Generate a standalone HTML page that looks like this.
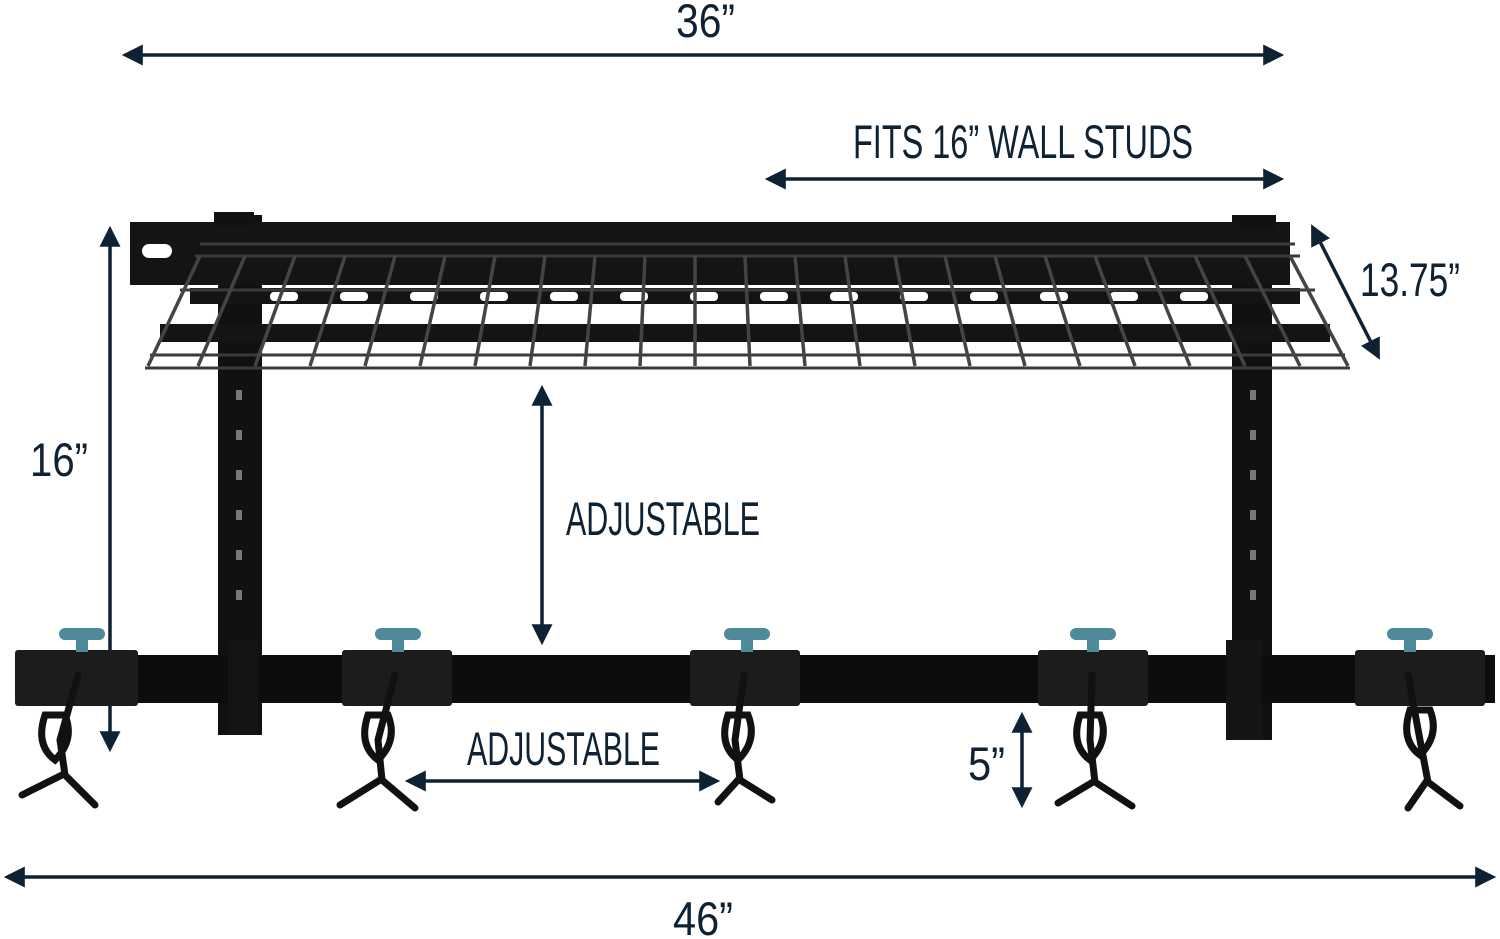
<!DOCTYPE html>
<html><head><meta charset="utf-8"><style>
html,body{margin:0;padding:0;background:#fff;}
svg{display:block}
text{font-family:"Liberation Sans",sans-serif;fill:#0e2233;}
</style></head><body>
<svg width="1500" height="939" viewBox="0 0 1500 939" xmlns="http://www.w3.org/2000/svg">
<defs>
<marker id="ah" viewBox="0 0 10 10" refX="8" refY="5" markerWidth="6" markerHeight="6" orient="auto-start-reverse">
<path d="M0,0 L10,5 L0,10 z" fill="#0e2233"/></marker>
</defs>
<g stroke="#0e2233" stroke-width="3.5" fill="none" marker-start="url(#ah)" marker-end="url(#ah)">
<line x1="126" y1="55" x2="1280" y2="55"/>
<line x1="769" y1="179" x2="1280" y2="179"/>
<line x1="1313" y1="228" x2="1378" y2="356"/>
<line x1="110" y1="230" x2="110" y2="748"/>
<line x1="542" y1="389" x2="542" y2="641"/>
<line x1="409" y1="781" x2="716" y2="781"/>
<line x1="1022" y1="716" x2="1022" y2="804"/>
<line x1="8" y1="877" x2="1492" y2="877"/>
</g>
<g font-size="47" lengthAdjust="spacingAndGlyphs">
<text x="676" y="37" textLength="59" lengthAdjust="spacingAndGlyphs">36”</text>
<text x="853" y="158" textLength="340" lengthAdjust="spacingAndGlyphs">FITS 16” WALL STUDS</text>
<text x="1360" y="296" textLength="100" lengthAdjust="spacingAndGlyphs">13.75”</text>
<text x="30" y="476" textLength="58" lengthAdjust="spacingAndGlyphs">16”</text>
<text x="566" y="535" textLength="194" lengthAdjust="spacingAndGlyphs">ADJUSTABLE</text>
<text x="467" y="765" textLength="193" lengthAdjust="spacingAndGlyphs">ADJUSTABLE</text>
<text x="968" y="780" textLength="37" lengthAdjust="spacingAndGlyphs">5”</text>
<text x="673" y="935" textLength="60" lengthAdjust="spacingAndGlyphs">46”</text>
</g>
<!-- posts -->
<rect x="218" y="215" width="44" height="520" fill="#111"/>
<rect x="1232" y="215" width="40" height="525" fill="#111"/>
<g fill="#777">
<rect x="236" y="390" width="6" height="10"/><rect x="236" y="430" width="6" height="10"/><rect x="236" y="470" width="6" height="10"/><rect x="236" y="510" width="6" height="10"/><rect x="236" y="550" width="6" height="10"/><rect x="236" y="590" width="6" height="10"/>
<rect x="1250" y="390" width="6" height="10"/><rect x="1250" y="430" width="6" height="10"/><rect x="1250" y="470" width="6" height="10"/><rect x="1250" y="510" width="6" height="10"/><rect x="1250" y="550" width="6" height="10"/><rect x="1250" y="590" width="6" height="10"/>
</g>
<!-- shelf -->
<polygon points="130,222 1290,222 1290,285 130,285" fill="#141414"/>
<rect x="142" y="244" width="30" height="14" rx="7" fill="#fff"/>
<rect x="190" y="288" width="1110" height="16" fill="#141414"/>
<g fill="#fff">
<rect x="270" y="292" width="28" height="9" rx="4"/><rect x="340" y="292" width="28" height="9" rx="4"/><rect x="410" y="292" width="28" height="9" rx="4"/><rect x="480" y="292" width="28" height="9" rx="4"/><rect x="550" y="292" width="28" height="9" rx="4"/><rect x="620" y="292" width="28" height="9" rx="4"/><rect x="690" y="292" width="28" height="9" rx="4"/><rect x="760" y="292" width="28" height="9" rx="4"/><rect x="830" y="292" width="28" height="9" rx="4"/><rect x="900" y="292" width="28" height="9" rx="4"/><rect x="970" y="292" width="28" height="9" rx="4"/><rect x="1040" y="292" width="28" height="9" rx="4"/><rect x="1110" y="292" width="28" height="9" rx="4"/><rect x="1180" y="292" width="28" height="9" rx="4"/>
</g>
<rect x="160" y="324" width="1170" height="18" fill="#141414"/>
<g stroke="#3a3a3a" stroke-width="3" fill="none">
<line x1="200" y1="244" x2="1295" y2="244"/>
<line x1="195" y1="256" x2="1300" y2="256"/>
<line x1="180" y1="290" x2="1315" y2="290"/>
<line x1="150" y1="355" x2="1345" y2="355"/>
<line x1="145" y1="368" x2="1350" y2="368"/>
</g>
<g stroke="#444" stroke-width="3.5">
<line x1="200" y1="256" x2="148" y2="366"/><line x1="245" y1="256" x2="198" y2="366"/><line x1="295" y1="256" x2="255" y2="366"/><line x1="345" y1="256" x2="310" y2="366"/><line x1="395" y1="256" x2="365" y2="366"/><line x1="445" y1="256" x2="420" y2="366"/><line x1="495" y1="256" x2="475" y2="366"/><line x1="545" y1="256" x2="530" y2="366"/><line x1="595" y1="256" x2="585" y2="366"/><line x1="645" y1="256" x2="640" y2="366"/><line x1="695" y1="256" x2="695" y2="366"/><line x1="745" y1="256" x2="750" y2="366"/><line x1="795" y1="256" x2="805" y2="366"/><line x1="845" y1="256" x2="860" y2="366"/><line x1="895" y1="256" x2="915" y2="366"/><line x1="945" y1="256" x2="970" y2="366"/><line x1="995" y1="256" x2="1025" y2="366"/><line x1="1045" y1="256" x2="1080" y2="366"/><line x1="1095" y1="256" x2="1135" y2="366"/><line x1="1145" y1="256" x2="1190" y2="366"/><line x1="1195" y1="256" x2="1245" y2="366"/><line x1="1245" y1="256" x2="1300" y2="366"/><line x1="1290" y1="256" x2="1348" y2="366"/>
</g>
<rect x="214" y="212" width="40" height="14" fill="#111"/>
<rect x="1240" y="215" width="36" height="14" fill="#111"/>
<!-- bottom rail -->
<rect x="15" y="655" width="1480" height="48" fill="#0d0d0d"/>
<rect x="228" y="640" width="30" height="95" fill="#141414"/>
<rect x="1226" y="640" width="36" height="100" fill="#141414"/>
<g fill="#1c1c1c">
<rect x="15" y="650" width="123" height="56" rx="3"/>
<rect x="342" y="650" width="110" height="56" rx="3"/>
<rect x="690" y="650" width="110" height="56" rx="3"/>
<rect x="1038" y="650" width="110" height="56" rx="3"/>
<rect x="1355" y="650" width="130" height="56" rx="3"/>
</g>
<g fill="#4e8a9a">
<rect x="59" y="628" width="46" height="12" rx="6"/><rect x="76" y="634" width="12" height="18"/>
<rect x="375" y="628" width="46" height="12" rx="6"/><rect x="392" y="634" width="12" height="18"/>
<rect x="724" y="628" width="46" height="12" rx="6"/><rect x="741" y="634" width="12" height="18"/>
<rect x="1070" y="628" width="46" height="12" rx="6"/><rect x="1087" y="634" width="12" height="18"/>
<rect x="1387" y="628" width="46" height="12" rx="6"/><rect x="1404" y="634" width="12" height="18"/>
</g>
<!-- hooks -->
<g stroke="#111" stroke-width="7" fill="none" stroke-linecap="round">
<path d="M78,675 L60,740 L65,775 M62,775 L22,795 M65,775 L95,805"/><path d="M45,715 q-10,30 10,45 q20,-20 10,-45 z"/>
<path d="M395,675 L378,740 L382,780 M380,780 L340,805 M382,780 L415,808"/><path d="M368,715 q-10,30 10,45 q20,-20 10,-45 z"/>
<path d="M744,675 L735,740 L740,780 M738,780 L718,802 M740,780 L772,800"/><path d="M728,715 q-10,30 10,45 q20,-20 10,-45 z"/>
<path d="M1092,675 L1090,740 L1095,782 M1093,782 L1058,803 M1095,782 L1132,806"/><path d="M1080,715 q-10,30 10,45 q20,-20 10,-45 z"/>
<path d="M1408,675 L1420,740 L1428,782 M1426,782 L1408,808 M1428,782 L1460,806"/><path d="M1410,710 q-10,30 10,45 q20,-20 10,-45 z"/>
</g>
</svg>
</body></html>
